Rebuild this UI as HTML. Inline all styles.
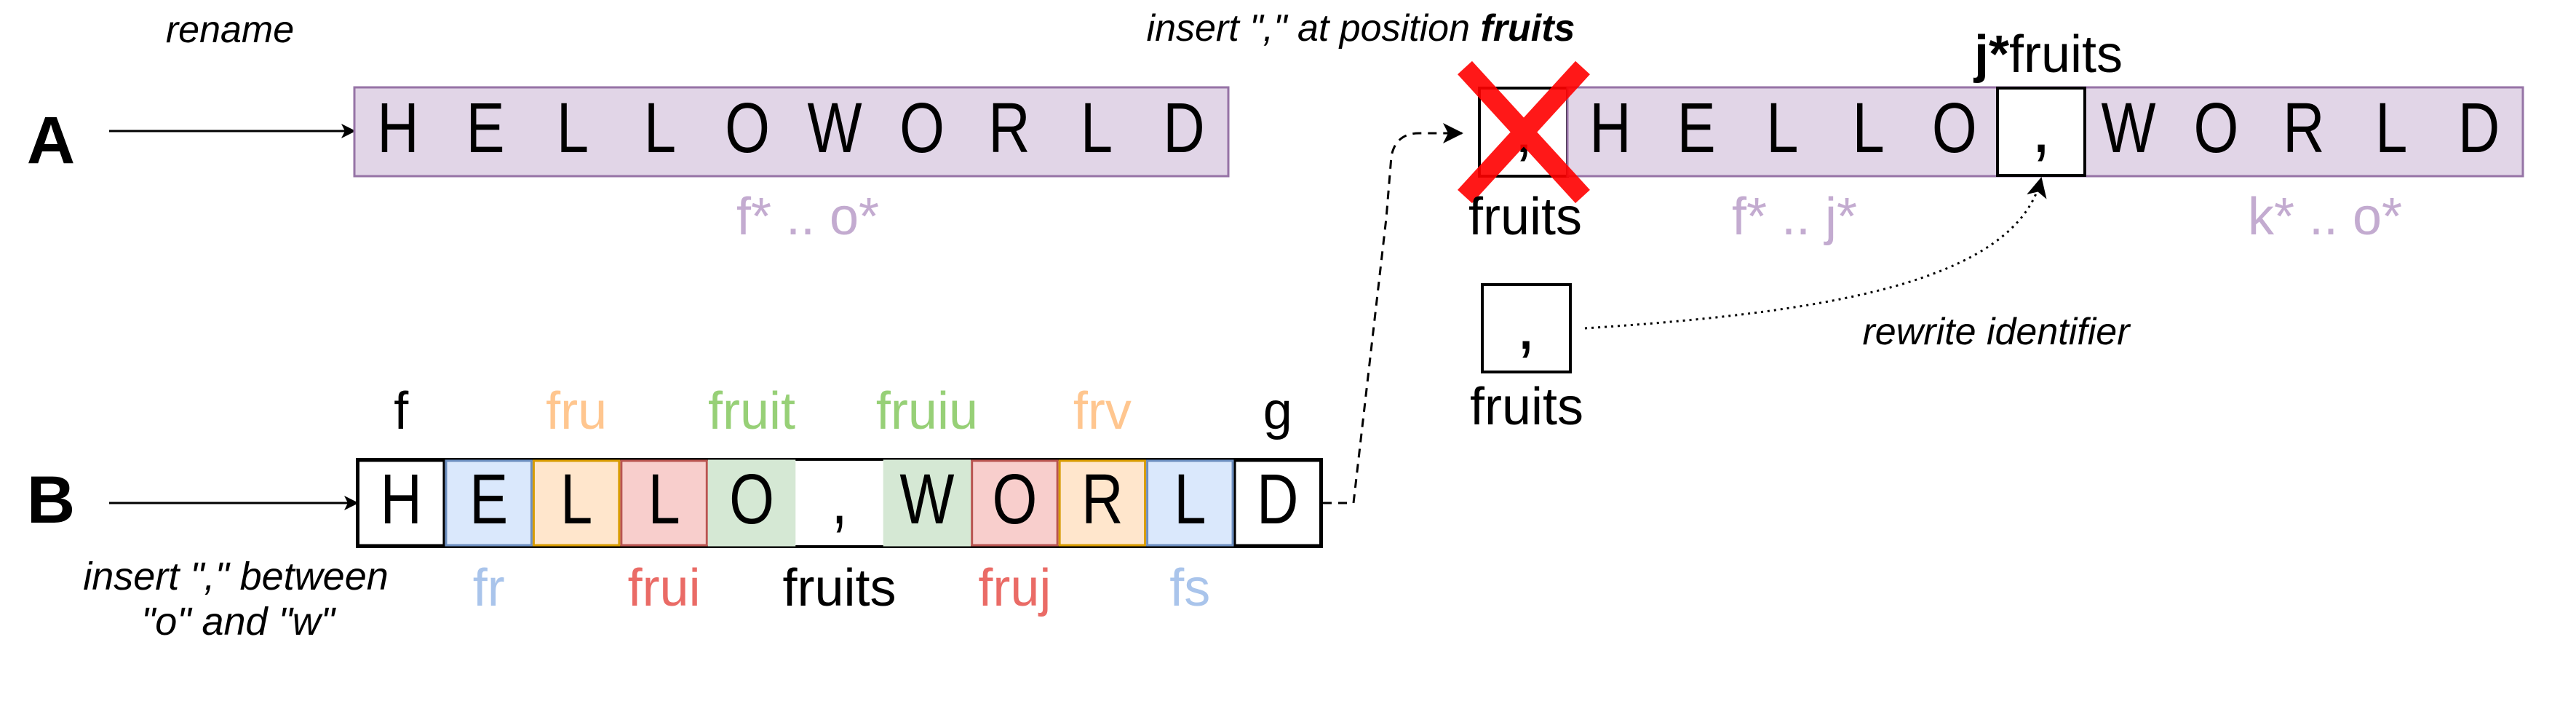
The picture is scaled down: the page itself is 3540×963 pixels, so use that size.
<!DOCTYPE html>
<html><head><meta charset="utf-8"><style>
html,body{margin:0;padding:0;background:#fff;}
svg{display:block;font-family:"Liberation Sans",sans-serif;}
</style></head><body>
<svg width="3540" height="963" viewBox="0 0 3540 963" xmlns="http://www.w3.org/2000/svg">
<defs>
<marker id="ar" viewBox="0 0 20 20" refX="18" refY="10" markerWidth="20" markerHeight="20" markerUnits="userSpaceOnUse" orient="auto"><path d="M0,0 L20,10 L0,20 L5,10 Z" fill="#000"/></marker>
<marker id="ar2" viewBox="0 0 28 28" refX="26" refY="14" markerWidth="28" markerHeight="28" markerUnits="userSpaceOnUse" orient="auto"><path d="M0,0 L28,14 L0,28 L7,14 Z" fill="#000"/></marker>
</defs>

<text x="316" y="58" font-size="52" font-style="italic" text-anchor="middle">rename</text>
<text x="70" y="224" font-size="92" font-weight="bold" text-anchor="middle">A</text>
<line x1="150" y1="180" x2="487" y2="180" stroke="#000" stroke-width="3" marker-end="url(#ar)"/>

<g>
<rect x="487" y="120" width="1201" height="122" fill="#e1d5e7" stroke="#9673a6" stroke-width="3"/>
<g id="aletters"></g>
</g>
<text x="1110" y="322" font-size="72" fill="#c3abd0" text-anchor="middle">f* .. o*</text>

<text x="70" y="718" font-size="92" font-weight="bold" text-anchor="middle">B</text>
<line x1="150" y1="691" x2="491" y2="691" stroke="#000" stroke-width="3" marker-end="url(#ar)"/>
<g>
<rect x="491" y="631" width="1325" height="120" fill="#fff" stroke="#000" stroke-width="4"/>
<g id="bcells"></g>
</g>
<g id="blabels"></g>
<text x="324" y="810" font-size="54" font-style="italic" text-anchor="middle">insert "," between</text>
<text x="327" y="872" font-size="54" font-style="italic" text-anchor="middle">"o" and "w"</text>

<path d="M1818 691 L1860 691 L1905 300 L1912 215 Q1918 183 1950 183 L2009 183" fill="none" stroke="#000" stroke-width="3" stroke-dasharray="12,9" marker-end="url(#ar2)"/>

<text x="1870" y="56" font-size="52" font-style="italic" text-anchor="middle">insert "," at position <tspan font-weight="bold">fruits</tspan></text>

<rect x="2033" y="121" width="121" height="121" fill="#fff" stroke="#000" stroke-width="4"/>
<text x="2094" y="209" font-size="97" text-anchor="middle">,</text>

<g>
<rect x="2154" y="120" width="1313" height="122" fill="#e1d5e7" stroke="#9673a6" stroke-width="3"/>
<rect x="2745" y="121" width="120" height="120" fill="#fff" stroke="#000" stroke-width="4"/>
<text x="2805" y="209" font-size="97" text-anchor="middle">,</text>
<g id="rletters"></g>
</g>
<g opacity="0.9">
<line x1="2013" y1="93" x2="2175" y2="270" stroke="#ff0000" stroke-width="27"/>
<line x1="2175" y1="93" x2="2013" y2="270" stroke="#ff0000" stroke-width="27"/>
</g>
<text x="2096" y="322" font-size="72" text-anchor="middle">fruits</text>
<text x="2815" y="99" font-size="72" text-anchor="middle"><tspan font-weight="bold">j*</tspan>fruits</text>
<text x="2466" y="322" font-size="72" fill="#c3abd0" text-anchor="middle">f* .. j*</text>
<text x="3195" y="322" font-size="72" fill="#c3abd0" text-anchor="middle">k* .. o*</text>

<rect x="2037" y="391" width="121" height="120" fill="#fff" stroke="#000" stroke-width="4"/>
<text x="2097" y="479" font-size="97" text-anchor="middle">,</text>
<text x="2098" y="583" font-size="72" text-anchor="middle">fruits</text>
<path d="M2178 451 C2500 430 2770 390 2805 245" fill="none" stroke="#000" stroke-width="3" stroke-dasharray="3,6" marker-end="url(#ar2)"/>
<text x="2743" y="473" font-size="52" font-style="italic" text-anchor="middle">rewrite identifier</text>
</svg>
<script>
const NS='http://www.w3.org/2000/svg';
const aLetters=['H','E','L','L','O','W','O','R','L','D'];
const bLetters=['H','E','L','L','O',',','W','O','R','L','D'];
const bFills=['#ffffff','#dae8fc','#ffe6cc','#f8cecc','#d5e8d4','#ffffff','#d5e8d4','#f8cecc','#ffe6cc','#dae8fc','#ffffff'];
const bStrokes=['#000000','#6c8ebf','#d79b00','#b85450','#d5e8d4','none','#d5e8d4','#b85450','#d79b00','#6c8ebf','#000000'];
const topLabels=[['f',0,'#000'],['fru',2,'#ffc68f'],['fruit',4,'#97d077'],['fruiu',6,'#97d077'],['frv',8,'#ffc68f'],['g',10,'#000']];
const botLabels=[['fr',1,'#a9c4eb'],['frui',3,'#ea6b66'],['fruits',5,'#000'],['fruj',7,'#ea6b66'],['fs',9,'#a9c4eb']];
function letter(parent,ch,cx,y){
  const t=document.createElementNS(NS,'text');
  t.setAttribute('transform','translate('+cx+','+y+') scale(0.82,1)');
  t.setAttribute('font-size','97');t.setAttribute('text-anchor','middle');
  t.textContent=ch;
  
  
  parent.appendChild(t);
}
const ga=document.getElementById('aletters');
aLetters.forEach((c,i)=>letter(ga,c,487+120*i+60,209));
const gb=document.getElementById('bcells');
const bw=1325/11;
bLetters.forEach((c,i)=>{
  const r=document.createElementNS(NS,'rect');
  r.setAttribute('x',491+bw*i+1.5);r.setAttribute('y',633);
  r.setAttribute('width',bw-3);r.setAttribute('height',116);
  r.setAttribute('fill',bFills[i]);r.setAttribute('stroke',bStrokes[i]);r.setAttribute('stroke-width','3');
  
  
  gb.appendChild(r);
  letter(gb,c,491+bw*i+bw/2,719);
});
const gl=document.getElementById('blabels');
function lab(arr,y){arr.forEach(l=>{
  const t=document.createElementNS(NS,'text');
  t.setAttribute('x',491+bw*l[1]+bw/2);t.setAttribute('y',y);
  t.setAttribute('font-size','72');t.setAttribute('text-anchor','middle');t.setAttribute('fill',l[2]);
  t.textContent=l[0];
  
  
  gl.appendChild(t);});}
lab(topLabels,589);lab(botLabels,832);
const gr=document.getElementById('rletters');
['H','E','L','L','O'].forEach((c,i)=>letter(gr,c,2154+118.2*i+59,209));
['W','O','R','L','D'].forEach((c,i)=>letter(gr,c,2865+120.4*i+60,209));
</script>
</body></html>
